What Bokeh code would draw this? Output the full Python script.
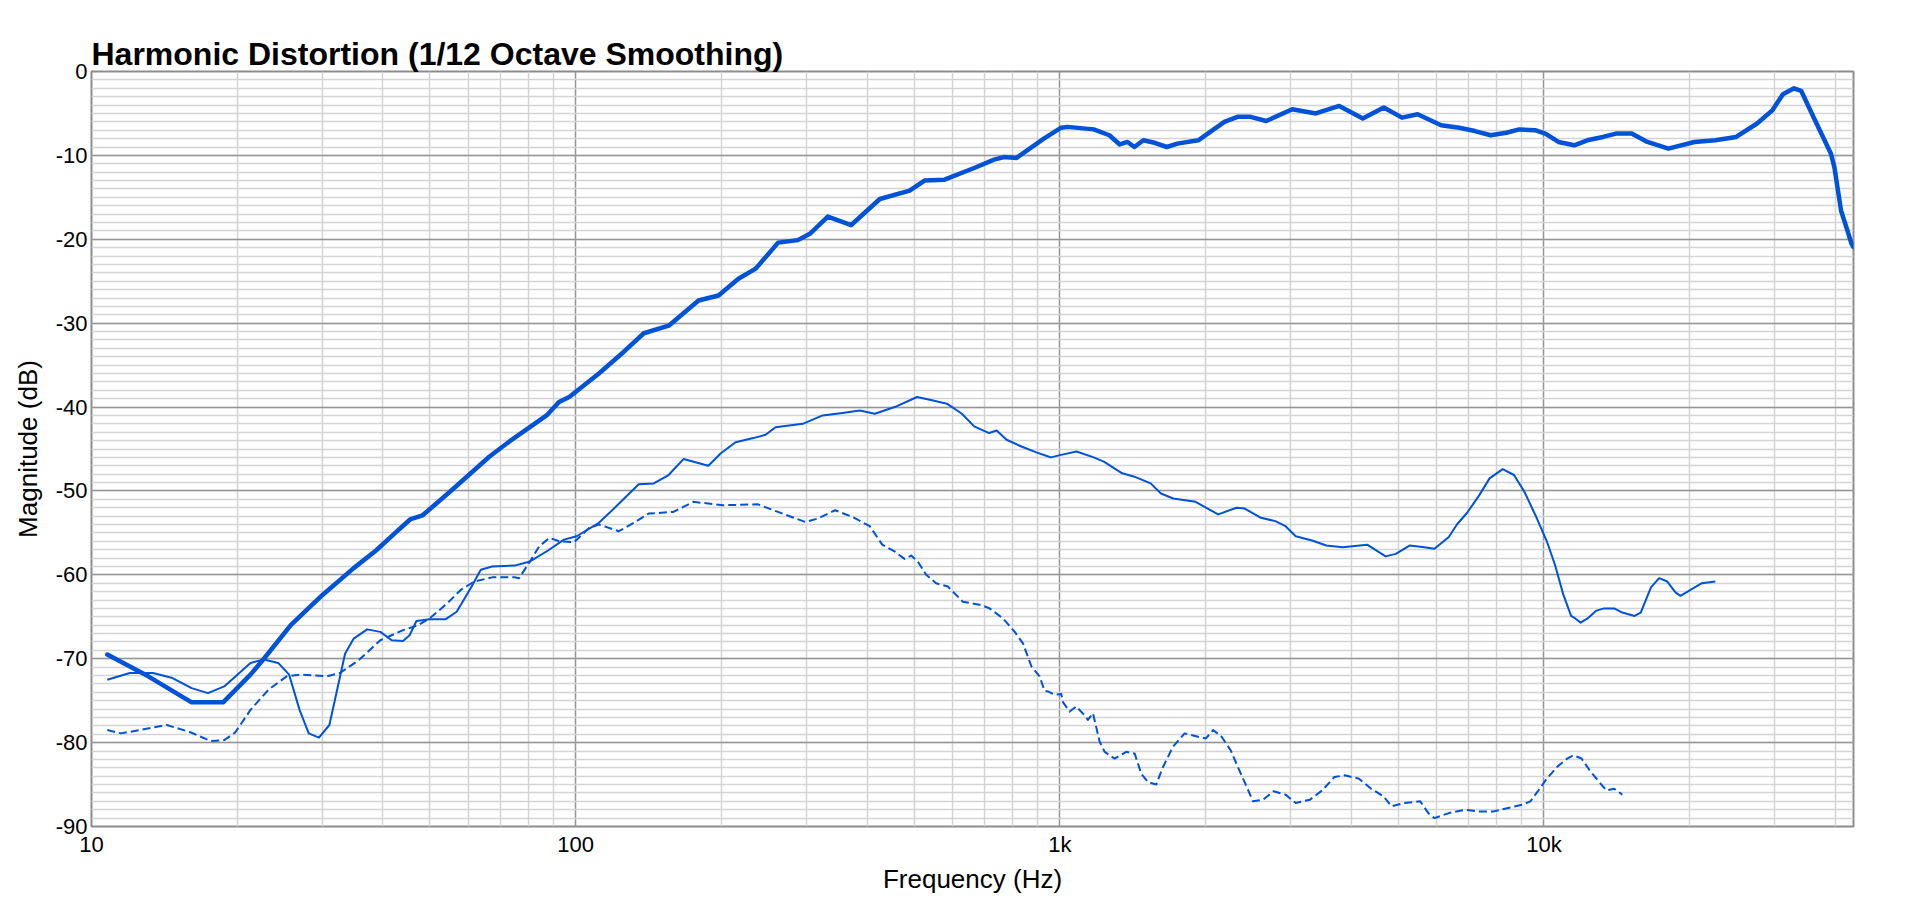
from bokeh.plotting import figure
from bokeh.models import FixedTicker, SingleIntervalTicker, Range1d
from bokeh.embed import file_html
from bokeh.resources import INLINE

TITLE = "Harmonic Distortion (1/12 Octave Smoothing)"
X_LABEL = "Frequency (Hz)"
Y_LABEL = "Magnitude (dB)"

x_ticks = [10, 100, 1000, 10000]
x_tick_labels = ["10", "100", "1k", "10k"]
y_ticks = [0, -10, -20, -30, -40, -50, -60, -70, -80, -90]
y_tick_labels = ["0", "-10", "-20", "-30", "-40", "-50", "-60", "-70", "-80", "-90"]

# Fundamental (thick line)
fund_f = [10.78, 13.1, 16.1, 18.7, 21.3, 22.7, 25.8, 30.0, 34.8, 38.7, 42.4, 45.5, 48.3, 55.0,
          66.4, 73.0, 87.1, 92.4, 97.0, 111.7, 125.8, 138.3, 155.7, 179.4, 197.3, 216.9, 235.5,
          262, 287.7, 305.4, 331.8, 370.9, 424.9, 489.7, 525.6, 578, 665.6, 731.6, 767, 814, 927,
          1007, 1038, 1175, 1266, 1330, 1380, 1426, 1488, 1570, 1664, 1749, 1932, 2188, 2328, 2478,
          2670, 3022, 3380, 3778, 4226, 4669, 5092, 5485, 6134, 6687, 7204, 7762, 8364, 8894, 9586,
          10070, 10718, 11550, 12290, 13250, 14090, 15180, 16360, 18070, 20460, 22590, 24950, 27560,
          29670, 31170, 32860, 33990, 36160, 39170, 39810, 41100, 42380, 43170, 43550]
fund_db = [-69.5, -72.1, -75.2, -75.2, -71.9, -70.0, -66.0, -62.4, -59.2, -57.1, -55.0, -53.4, -52.9, -50.1,
           -45.9, -44.1, -41.0, -39.4, -38.8, -36.0, -33.4, -31.2, -30.3, -27.3, -26.7, -24.7, -23.5,
           -20.4, -20.1, -19.3, -17.3, -18.3, -15.2, -14.2, -13.0, -12.9, -11.5, -10.5, -10.2, -10.3, -8.0,
           -6.7, -6.6, -6.9, -7.6, -8.7, -8.4, -9.0, -8.2, -8.5, -9.0, -8.6, -8.2, -6.0, -5.4, -5.4,
           -5.9, -4.5, -5.0, -4.1, -5.6, -4.3, -5.5, -5.1, -6.4, -6.7, -7.1, -7.6, -7.3, -6.9, -7.0,
           -7.4, -8.4, -8.8, -8.2, -7.8, -7.4, -7.4, -8.4, -9.2, -8.4, -8.2, -7.8, -6.2,
           -4.6, -2.7, -2.0, -2.3, -5.6, -9.8, -11.4, -16.6, -19.0, -20.5, -20.9]

# 2nd harmonic (thin solid line)
h2_f = [10.78, 12.0, 13.4, 14.7, 16.1, 17.4, 18.8, 21.3, 22.7, 24.3, 25.6, 26.9, 28.1, 29.5, 31.0,
        33.4, 34.8, 37.1, 39.5, 41.7, 44.0, 45.4, 46.9, 49.9, 53.8, 56.8, 60.4, 63.7, 67.2, 74.8,
        80.5, 87.7, 94.6, 100.5, 111.7, 120, 135, 145, 155.6, 167, 188, 199.5, 214, 232.8, 246.8,
        258.8, 294.6, 323.7, 355.8, 386.4, 414.9, 456.1, 507.3, 544.5, 584.6, 627.9, 665.6, 714.5,
        740.7, 776.5, 833.3, 894.7, 937.6, 958, 1006, 1083, 1175, 1233, 1346, 1426, 1541, 1618,
        1715, 1908, 2124, 2318, 2410, 2604, 2788, 2927, 3072, 3320, 3554, 3841, 4315, 4711, 4944,
        5287, 5662, 5942, 6363, 6613, 6941, 7356, 7722, 8220, 8675, 9113, 9660, 10140, 10540,
        10960, 11380, 11610, 11910, 12310, 12800, 13310, 13970, 14520, 15390, 15850, 16640, 17300,
        17980, 18700, 19150, 20200, 21200, 22600]
h2_db = [-72.5, -71.7, -71.7, -72.3, -73.5, -74.1, -73.3, -70.5, -70.1, -70.5, -71.9, -76.1, -78.9, -79.4, -77.9,
         -69.4, -67.6, -66.5, -66.8, -67.8, -67.9, -67.2, -65.5, -65.3, -65.3, -64.4, -61.8, -59.4, -59.0, -58.9,
         -58.4, -57.1, -55.8, -55.4, -53.8, -52.1, -49.2, -49.1, -48.1, -46.2, -47.0, -45.5, -44.2, -43.7, -43.3,
         -42.4, -42.0, -41.0, -40.7, -40.4, -40.8, -40.0, -38.8, -39.2, -39.6, -40.8, -42.3, -43.1,
         -42.8, -43.9, -44.7, -45.4, -45.8, -46.0, -45.7, -45.3, -46.0, -46.5, -47.9, -48.3, -49.1, -50.3,
         -50.9, -51.3, -52.8, -52.0, -52.1, -53.2, -53.6, -54.2, -55.4, -55.9, -56.5, -56.7, -56.4, -57.8, -57.5,
         -56.5, -56.7, -56.9, -55.5, -54.0, -52.6, -50.5, -48.5, -47.4, -48.1, -50.1, -53.2, -56.0, -58.8,
         -62.3, -64.9, -65.2, -65.7, -65.2, -64.3, -64.0, -64.0, -64.5, -64.9, -64.5, -61.5, -60.4,
         -60.8, -62.1, -62.5, -61.7, -61.0, -60.8]

# 3rd harmonic (dashed line)
h3_f = [10.78, 11.5, 12.6, 14.3, 15.9, 17.6, 18.8, 19.8, 21.3, 23.2, 25.3, 27.0, 30.6, 32.6, 35.6,
        39.5, 44.0, 47.3, 49.9, 54.3, 57.9, 61.7, 67.2, 74.8, 76.4, 80.5, 84.1, 88.3, 92.5, 99.3,
        106.6, 111.7, 122.8, 131.9, 141.5, 159.2, 175, 201.6, 238.1, 261.8, 298, 316, 343.5, 373,
        405, 429.8, 455.7, 478, 493.4, 509, 529.8, 555.4, 587.4, 630.9, 688.5, 716, 763.7, 807.3,
        840, 873.7, 908.5, 930, 945.6, 975.5, 1007, 1016, 1048, 1082, 1119, 1143, 1171, 1209, 1238,
        1298, 1372, 1428, 1473, 1521, 1582, 1634, 1713, 1811, 1931, 2004, 2074, 2159, 2253, 2341,
        2434, 2506, 2631, 2762, 2927, 3072, 3288, 3484, 3692, 3878, 4150, 4398, 4664, 4843, 5136,
        5555, 5772, 5942, 6363, 6878, 7290, 7872, 8433, 9020, 9378, 9660, 10140, 10640, 11170,
        11500, 11960, 12430, 12930, 13450, 13970, 14520]
h3_db = [-78.5, -78.9, -78.5, -77.9, -78.7, -79.8, -79.7, -78.8, -76.1, -73.7, -72.1, -71.9, -72.1, -71.7, -70.2,
         -67.8, -66.6, -66.0, -65.2, -63.4, -61.8, -60.8, -60.3, -60.3, -60.4, -58.4, -56.6, -55.6, -56.0, -56.1,
         -54.4, -54.0, -54.8, -53.8, -52.7, -52.5, -51.3, -51.7, -51.6, -52.5, -53.7, -53.3, -52.3, -53.1,
         -54.2, -56.4, -57.2, -58.1, -57.7, -58.4, -60.0, -61.0, -61.4, -63.2, -63.6, -64.0, -65.2, -66.8,
         -68.2, -70.9, -72.1, -73.8, -73.9, -74.3, -74.2, -75.2, -76.3, -75.7, -76.6, -77.3, -76.5, -79.9, -81.1,
         -81.9, -81.1, -81.3, -83.7, -84.7, -85.0, -82.9, -80.5, -78.9, -79.3, -79.5, -78.5, -79.3, -80.9, -83.1,
         -85.3, -87.0, -86.8, -85.8, -86.2, -87.2, -86.8, -85.7, -84.1, -83.9, -84.3, -85.5, -86.4, -87.6, -87.2,
         -87.0, -88.4, -89.0, -88.4, -88.0, -88.2, -88.2, -87.8, -87.4, -87.0, -86.0, -84.3, -82.9, -81.9,
         -81.5, -81.9, -83.3, -84.5, -85.7, -85.5, -86.2]

BLUE = "#0052d9"
FONT = "Liberation Sans"

p = figure(width=1900, height=896, x_axis_type="log",
           x_range=Range1d(10, 43600), y_range=Range1d(-90, 0),
           output_backend="svg", toolbar_location=None,
           min_border_left=91, min_border_right=47, min_border_top=71, min_border_bottom=69,
           title=TITLE)

p.title.text_font = FONT
p.title.text_font_size = "32px"
p.title.text_font_style = "bold"
p.title.align = "left"
p.title.standoff = 0
p.title.text_color = "#000000"

p.outline_line_color = "#8c8c8c"
p.outline_line_width = 2
p.background_fill_color = "white"
p.border_fill_color = "white"

x_minor = [m * 10 ** k for k in range(1, 5) for m in range(2, 10) if m * 10 ** k <= 43600]
p.xaxis.ticker = FixedTicker(ticks=x_ticks, minor_ticks=x_minor)
p.xaxis.major_label_overrides = dict(zip(x_ticks, x_tick_labels))
p.yaxis.ticker = SingleIntervalTicker(interval=10, num_minor_ticks=10)
p.yaxis.major_label_overrides = dict(zip(y_ticks, y_tick_labels))

for ax in (p.xaxis, p.yaxis):
    ax.axis_line_color = None
    ax.major_tick_line_color = None
    ax.minor_tick_line_color = None
    ax.major_tick_out = 0
    ax.major_tick_in = 0
    ax.minor_tick_out = 0
    ax.minor_tick_in = 0
    ax.major_label_text_font = FONT
    ax.major_label_text_font_size = "22px"
    ax.major_label_text_color = "#000000"
    ax.axis_label_text_font = FONT
    ax.axis_label_text_font_size = "26px"
    ax.axis_label_text_font_style = "normal"
    ax.axis_label_text_color = "#000000"

p.xaxis.axis_label = X_LABEL
p.yaxis.axis_label = Y_LABEL
p.xaxis.major_label_standoff = 5
p.yaxis.major_label_standoff = 4
p.xaxis.axis_label_standoff = 4
p.yaxis.axis_label_standoff = 10

for g in (p.xgrid, p.ygrid):
    g.grid_line_color = "#969696"
    g.grid_line_width = 1.5
    g.minor_grid_line_color = "#d4d4d4"
    g.minor_grid_line_width = 1.5

p.line(h3_f, h3_db, line_color=BLUE, line_width=2, line_dash="8 4", line_join="round")
p.line(h2_f, h2_db, line_color=BLUE, line_width=2, line_join="round")
p.line(fund_f, fund_db, line_color=BLUE, line_width=4.5, line_join="round", line_cap="round")

open("out.html", "w").write(file_html(p, INLINE))
